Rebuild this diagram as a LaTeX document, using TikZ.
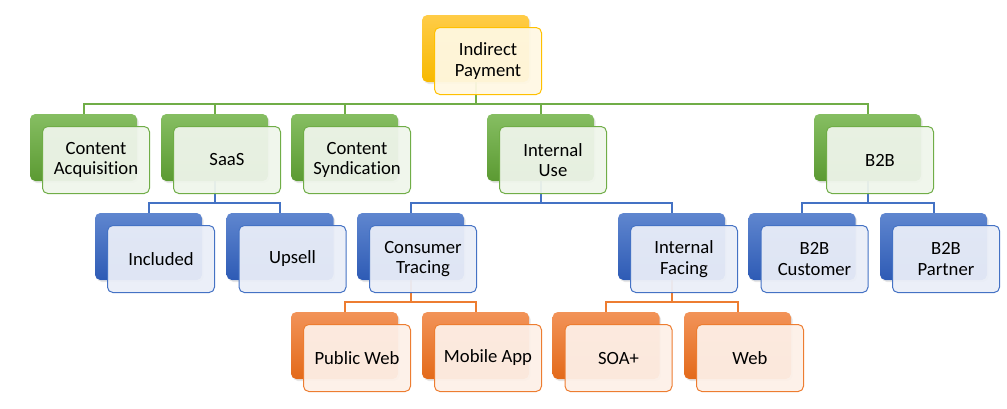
\documentclass[tikz,border=0pt]{standalone}
\usepackage{fontspec}
\setmainfont{Carlito}[Ligatures=NoCommon]
\usetikzlibrary{calc,shadows,backgrounds}

\definecolor{goldacc}{HTML}{FFC000}
\definecolor{goldtop}{HTML}{FFCC47}
\definecolor{goldbot}{HTML}{F7B900}
\definecolor{goldpale}{HTML}{FFF8E3}
\definecolor{greenacc}{HTML}{70AD47}
\definecolor{greentop}{HTML}{86BE62}
\definecolor{greenbot}{HTML}{5B9A32}
\definecolor{greenpale}{HTML}{EFF5EB}
\definecolor{blueacc}{HTML}{4472C4}
\definecolor{bluetop}{HTML}{5F86CF}
\definecolor{bluebot}{HTML}{2E5BB5}
\definecolor{bluepale}{HTML}{EAEEF8}
\definecolor{orangeacc}{HTML}{ED7D31}
\definecolor{orangetop}{HTML}{F29358}
\definecolor{orangebot}{HTML}{E36A1A}
\definecolor{orangepale}{HTML}{FDF0E8}

\begin{document}
\begin{tikzpicture}[
      x=0.75pt, y=-0.75pt,
      font=\fontsize{14}{15.5}\selectfont,
      % Reusable styles
      back/.style={
        rounded corners=4pt,
        minimum width=80.25pt,
        minimum height=50.25pt,
        inner sep=0pt,
        drop shadow={shadow xshift=1.2pt, shadow yshift=-1.5pt, opacity=0.2}
      },
      goldback/.style={back, top color=goldtop, bottom color=goldbot},
      greenback/.style={back, top color=greentop, bottom color=greenbot},
      blueback/.style={back, top color=bluetop, bottom color=bluebot},
      orangeback/.style={back, top color=orangetop, bottom color=orangebot},
      front/.style={
        rounded corners=4pt,
        minimum width=80.25pt,
        minimum height=50.25pt,
        inner sep=2pt,
        align=center,
        line width=0.75pt,
        fill opacity=0.94,
        text opacity=1
      },
      goldfront/.style={front, draw=goldacc, fill=goldpale},
      greenfront/.style={front, draw=greenacc, fill=greenpale},
      bluefront/.style={front, draw=blueacc, fill=bluepale},
      orangefront/.style={front, draw=orangeacc, fill=orangepale},
      link/.style={line width=1.5pt}
    ]
    \useasboundingbox (0,0) rectangle (1007,408);

    % Top
    \node[goldback] (ip) at (475.5,48.5) {};
    \node[goldfront] (ip-t) at ($(ip)+(12.5,12.5)$) {Indirect\\Payment};

    % Second level
    \foreach \n/\x/\txt in {ca/83.5/{Content\\Acquisition}, saas/214.5/SaaS,
        cs/344.5/{Content\\Syndication}, iu/540.5/{Internal\\Use}, b2b/867.5/B2B} {
      \node[greenback] (\n) at (\x,147.5) {};
      \node[greenfront] (\n-t) at ($(\n)+(12.5,12.5)$) {\txt};
    }

    % Third level
    \foreach \n/\x/\txt in {inc/148.5/Included, ups/280/Upsell,
        ct/410.5/{Consumer\\Tracing}, ifc/671.5/{Internal\\Facing},
        bcu/802/{B2B\\Customer}, bpa/933.5/{B2B\\Partner}} {
      \node[blueback] (\n) at (\x,246.5) {};
      \node[bluefront] (\n-t) at ($(\n)+(12.5,12.5)$) {\txt};
    }

    % Fourth level
    \foreach \n/\x/\txt in {pw/344.5/Public Web, ma/475.5/Mobile App,
        soa/606/SOA+, web/737.5/Web} {
      \node[orangeback] (\n) at (\x,345.5) {};
      \node[orangefront] (\n-t) at ($(\n)+(12.5,12.5)$) {\txt};
    }

    % Edges
    \begin{scope}[on background layer]
      \foreach \c in {ca,saas,cs,iu,b2b}
        \draw[link, greenacc] (ip.south) -- ++(0,21.5) -| (\c.north);
      \foreach \c in {inc,ups}
        \draw[link, blueacc] (saas.south) -- ++(0,21.5) -| (\c.north);
      \foreach \c in {ct,ifc}
        \draw[link, blueacc] (iu.south) -- ++(0,21.5) -| (\c.north);
      \foreach \c in {bcu,bpa}
        \draw[link, blueacc] (b2b.south) -- ++(0,21.5) -| (\c.north);
      \foreach \c in {pw,ma}
        \draw[link, orangeacc] (ct.south) -- ++(0,21.5) -| (\c.north);
      \foreach \c in {soa,web}
        \draw[link, orangeacc] (ifc.south) -- ++(0,21.5) -| (\c.north);
    \end{scope}
  \end{tikzpicture}
\end{document}
